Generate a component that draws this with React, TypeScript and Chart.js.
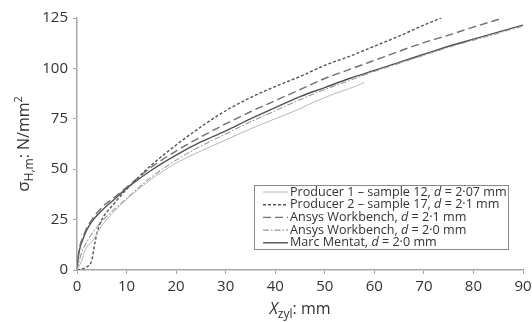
import React, { useEffect, useRef } from "react";
import { Chart, registerables } from "chart.js";

Chart.register(...registerables);

// Producer 1 – sample 12, d = 2.07 mm
const xProducer1 = [0, 1, 1.5, 2.5, 3, 4, 5, 7.5, 10, 15, 20, 25, 30, 35, 40, 45, 48, 50, 52, 55, 58];
const yProducer1 = [0, 5, 9, 13, 14, 18, 22, 29, 35, 45, 53, 59, 64.5, 70, 75, 80, 83.5, 85.5, 87.5, 90, 93];

// Producer 2 – sample 17, d = 2.1 mm
const xProducer2 = [0, 1, 2, 3, 3.5, 4, 4.5, 5, 7.5, 10, 15, 20, 25, 30, 35, 40, 45, 50, 55, 60, 65, 70, 73.5];
const yProducer2 = [0, 0.5, 1.5, 5, 12, 18, 22, 25, 33, 40, 52, 62, 71, 79, 85.5, 91, 96, 101.5, 106, 111, 116, 121.5, 125];

// Ansys Workbench, d = 2.1 mm
const xAnsys21 = [0, 0.3, 0.7, 1, 2, 3, 5, 7.5, 10, 15, 20, 25, 30, 35, 40, 45, 50, 55, 60, 65, 70, 75, 80, 86];
const yAnsys21 = [0, 8, 13, 15, 21, 25, 31, 36, 41, 51, 59, 66, 72.5, 78.5, 84, 89.5, 95, 99.5, 104, 108.5, 112.8, 116.5, 120.5, 125];

// Ansys Workbench, d = 2.0 mm
const xAnsys20 = [0, 0.5, 1, 2, 3, 5, 7.5, 10, 15, 20, 25, 30, 35, 40, 45, 50, 55, 60, 65, 70, 75, 80, 85, 90];
const yAnsys20 = [0, 5, 9, 14, 18, 24, 30, 35.5, 46, 54.5, 61.5, 67.5, 73.5, 79, 84.5, 89.5, 94, 98.5, 102.5, 106.5, 110.5, 114, 117.5, 121];

// Marc Mentat, d = 2.0 mm
const xMarc = [0, 0.3, 0.7, 1, 2, 3, 5, 7.5, 10, 15, 20, 25, 30, 35, 40, 45, 50, 55, 60, 65, 70, 75, 80, 85, 90];
const yMarc = [0, 7, 12, 14, 20, 24, 29.5, 35, 40.5, 49.5, 57, 63.5, 69, 75, 80.5, 86, 90.5, 95, 99, 103, 107, 111, 114.5, 118, 121.5];

const xTicks = [0, 10, 20, 30, 40, 50, 60, 70, 80, 90];
const yTicks = [0, 25, 50, 75, 100, 125];

const legendLabels = [
  ["Producer 1 – sample 12, ", "d", " = 2·07 mm"],
  ["Producer 2 – sample 17, ", "d", " = 2·1 mm"],
  ["Ansys Workbench, ", "d", " = 2·1 mm"],
  ["Ansys Workbench, ", "d", " = 2·0 mm"],
  ["Marc Mentat, ", "d", " = 2·0 mm"],
];

const FONT = "'Open Sans', 'Noto Sans', sans-serif";

const styles = [
  { color: "#b8b8b8", width: 1, dash: [] as number[] },
  { color: "#555555", width: 1.4, dash: [3, 2] },
  { color: "#707070", width: 1.4, dash: [8, 4] },
  { color: "#9a9a9a", width: 1.1, dash: [6, 2, 1.5, 2] },
  { color: "#505050", width: 1.4, dash: [] as number[] },
];

const toPts = (xs: number[], ys: number[]) => xs.map((x, i) => ({ x, y: ys[i] }));

type Part = { t: string; font: string; dy: number };

function drawParts(ctx: CanvasRenderingContext2D, parts: Part[], x: number, y: number, align: "left" | "center") {
  let total = 0;
  for (const p of parts) {
    ctx.font = p.font;
    total += ctx.measureText(p.t).width;
  }
  let cx = align === "center" ? x - total / 2 : x;
  for (const p of parts) {
    ctx.font = p.font;
    ctx.fillText(p.t, cx, y + p.dy);
    cx += ctx.measureText(p.t).width;
  }
}

const overlayPlugin = {
  id: "overlay",
  afterDraw(chart: any) {
    const ctx: CanvasRenderingContext2D = chart.ctx;
    const ca = chart.chartArea;
    ctx.save();
    ctx.fillStyle = "#333333";
    ctx.textBaseline = "alphabetic";
    // x title
    drawParts(
      ctx,
      [
        { t: "X", font: `italic 16px ${FONT}`, dy: 0 },
        { t: "zyl", font: `12px ${FONT}`, dy: 4 },
        { t: ": mm", font: `16px ${FONT}`, dy: 0 },
      ],
      (ca.left + ca.right) / 2,
      314,
      "center"
    );
    // y title
    ctx.save();
    ctx.translate(29, (ca.top + ca.bottom) / 2);
    ctx.rotate(-Math.PI / 2);
    drawParts(
      ctx,
      [
        { t: "σ", font: `17px ${FONT}`, dy: 0 },
        { t: "H,m", font: `12px ${FONT}`, dy: 4 },
        { t: ": N/mm", font: `16px ${FONT}`, dy: 0 },
        { t: "2", font: `11px ${FONT}`, dy: -7 },
      ],
      0,
      0,
      "center"
    );
    ctx.restore();
    // legend
    const bx = 254, by = 185, bw = 254, bh = 64;
    ctx.fillStyle = "#ffffff";
    ctx.fillRect(bx, by, bw, bh);
    ctx.strokeStyle = "#8a8a8a";
    ctx.lineWidth = 1;
    ctx.setLineDash([]);
    ctx.strokeRect(bx + 0.5, by + 0.5, bw, bh);
    for (let i = 0; i < legendLabels.length; i++) {
      const yy = by + 7 + i * 12.7;
      const s = styles[i];
      ctx.strokeStyle = s.color;
      ctx.lineWidth = s.width;
      ctx.setLineDash(s.dash);
      ctx.beginPath();
      ctx.moveTo(263, yy);
      ctx.lineTo(288, yy);
      ctx.stroke();
      ctx.setLineDash([]);
      ctx.fillStyle = "#333333";
      ctx.textBaseline = "middle";
      const [a, b, c] = legendLabels[i];
      drawParts(
        ctx,
        [
          { t: a, font: `12.6px ${FONT}`, dy: 0 },
          { t: b, font: `italic 12.6px ${FONT}`, dy: 0 },
          { t: c, font: `12.6px ${FONT}`, dy: 0 },
        ],
        290,
        yy,
        "left"
      );
    }
    ctx.restore();
  },
};

export default function App() {
  const ref = useRef<HTMLCanvasElement>(null);
  useEffect(() => {
    document.body.style.margin = "0";
    const series = [
      toPts(xProducer1, yProducer1),
      toPts(xProducer2, yProducer2),
      toPts(xAnsys21, yAnsys21),
      toPts(xAnsys20, yAnsys20),
      toPts(xMarc, yMarc),
    ];
    const chart = new Chart(ref.current!, {
      type: "line",
      data: {
        datasets: series.map((d, i) => ({
          label: legendLabels[i].join(""),
          data: d,
          borderColor: styles[i].color,
          borderWidth: styles[i].width,
          borderDash: styles[i].dash,
          pointRadius: 0,
          fill: false,
          tension: 0.4,
          cubicInterpolationMode: "monotone" as const,
        })),
      },
      options: {
        animation: false,
        responsive: false,
        layout: { padding: { top: 18, right: 9, left: 0, bottom: 0 } },
        plugins: { legend: { display: false }, tooltip: { enabled: false } },
        scales: {
          x: {
            type: "linear",
            min: 0,
            max: 90,
            afterBuildTicks: (s: any) => {
              s.ticks = xTicks.map((v) => ({ value: v }));
            },
            afterFit: (s: any) => {
              s.height = 52;
              s.paddingRight = 0;
              s.paddingLeft = 0;
            },
            border: { color: "#a8a8a8", width: 1.5 },
            grid: { drawOnChartArea: false, tickLength: 4, color: "#a8a8a8" },
            ticks: { color: "#333333", font: { family: FONT, size: 15 }, padding: 4, maxRotation: 0 },
          },
          y: {
            type: "linear",
            min: 0,
            max: 125,
            afterBuildTicks: (s: any) => {
              s.ticks = yTicks.map((v) => ({ value: v }));
            },
            afterFit: (s: any) => {
              s.width = 77;
              s.paddingTop = 0;
              s.paddingBottom = 0;
            },
            border: { color: "#a8a8a8", width: 1.5 },
            grid: { drawOnChartArea: false, tickLength: 4, color: "#a8a8a8" },
            ticks: { color: "#333333", font: { family: FONT, size: 15 }, padding: 5 },
          },
        },
      },
      plugins: [overlayPlugin],
    });
    return () => chart.destroy();
  }, []);
  return <canvas ref={ref} width={532} height={322} style={{ display: "block" }} />;
}
